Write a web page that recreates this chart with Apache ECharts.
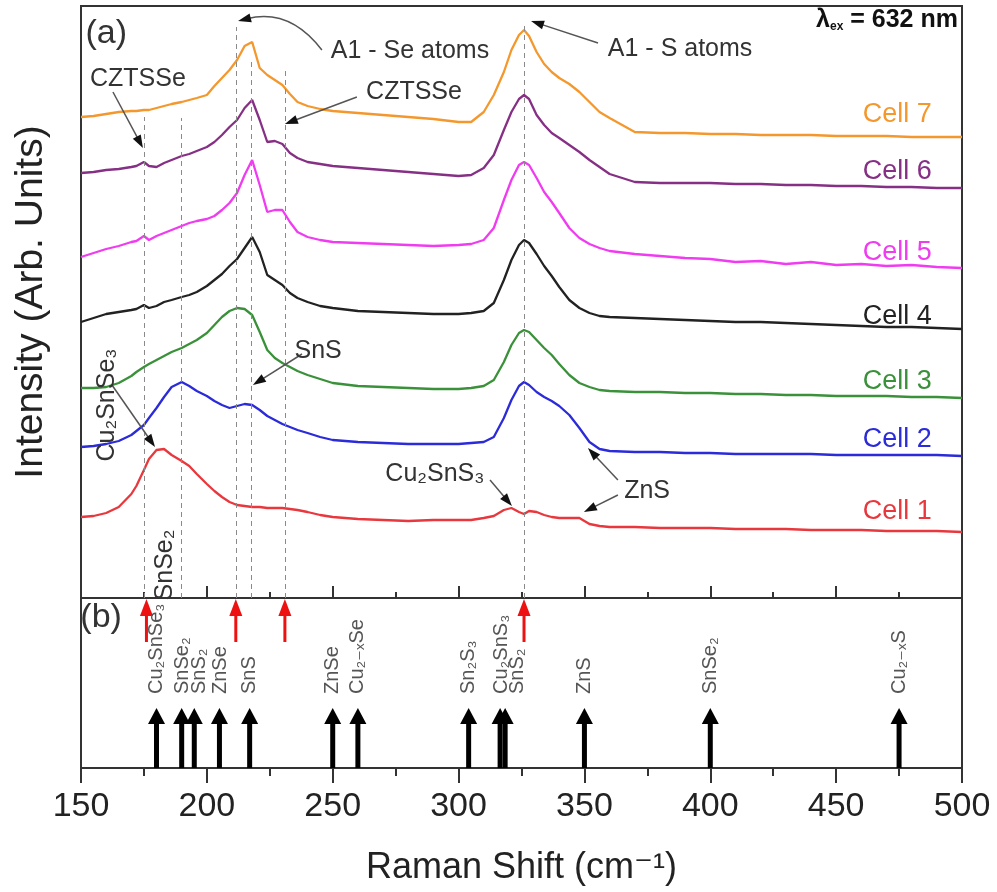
<!DOCTYPE html>
<html><head><meta charset="utf-8">
<script src="https://cdn.jsdelivr.net/npm/echarts@6/dist/echarts.min.js"></script>
<style>html,body{margin:0;padding:0;background:#fff}#c{width:997px;height:892px}</style>
</head><body><div id="c"></div>
<script>
const FONT = '"Liberation Sans", Arial, "DejaVu Sans", sans-serif';

// Raman shift sampling (cm-1)
const ramanShift = [150,155,160,165,170,172,175,177,180,183,186,190,193,196,200,203,206,209,212,215,218,221,224,227,230,233,236,240,245,250,260,270,280,290,300,305,310,314,318,321,324,326,328,331,334,337,340,344,348,352,356,360,370,380,390,400,410,420,430,440,450,460,470,480,490,500];

// Stacked intensities (arb. units, offsets included)
const cell1 = [83,84,87,93,106,114,130,141,150,151,145,139,134,126,116,109,103,98,95,94,93,93,92,92,92,91,90,88,85,83,81,80,79,80,80,80,82,84,90,92,88,86,89,88,85,83,82,82,82,76,74,73,73,72,72,72,71,71,71,70,70,70,69,69,69,68];
const cell2 = [153,154,156,159,165,169,175,182,192,203,213,218,214,209,204,199,195,192,194,196,195,190,184,180,176,173,170,167,163,160,158,157,156,156,156,157,158,163,182,200,214,218,215,208,203,199,194,185,172,158,151,149,148,148,147,147,146,146,146,146,145,145,145,145,145,144];
const cell3 = [212,212,213,217,224,228,233,236,240,244,248,252,256,260,267,275,283,289,292,291,285,268,250,242,237,233,229,225,221,217,214,213,212,211,211,212,214,220,238,255,267,270,268,260,252,245,236,225,217,213,210,209,208,208,207,207,206,206,205,205,204,204,204,203,203,202];
const cell4 = [278,282,286,288,290,291,295,292,294,298,300,303,305,308,314,320,326,334,341,352,363,348,325,320,315,307,302,298,294,292,289,288,287,286,286,287,289,297,320,340,355,360,357,346,334,324,313,300,292,287,284,283,282,281,280,279,278,278,277,276,275,274,273,273,272,271];
const cell5 = [343,347,351,354,358,359,364,360,364,367,370,374,377,379,381,384,390,397,407,425,440,415,388,390,390,378,368,363,360,358,357,356,355,354,355,356,360,372,400,420,435,438,435,422,408,398,387,372,362,356,352,349,346,344,342,341,338,339,336,338,335,336,334,335,333,332];
const cell6 = [427,428,430,431,433,434,438,434,433,437,440,444,446,449,453,458,465,473,480,492,500,480,458,459,456,447,442,438,436,434,432,430,428,426,424,425,432,445,470,488,501,505,501,485,475,467,462,455,448,440,433,426,418,417,417,417,416,416,415,415,414,414,413,413,412,412];
const cell7 = [483,484,486,488,489,489,490,490,492,494,496,498,500,502,505,514,522,530,540,554,558,532,525,520,515,506,498,494,491,489,487,485,483,481,478,478,488,505,528,550,565,570,564,548,536,528,522,516,508,498,488,482,468,467,467,466,466,465,465,465,464,464,464,463,463,463];

const cellNames = ['Cell 1','Cell 2','Cell 3','Cell 4','Cell 5','Cell 6','Cell 7'];
const cellData = [cell1, cell2, cell3, cell4, cell5, cell6, cell7];

// Panel (b): reference phase peaks (cm-1)
const refPeaks = [180,190,195,205,217,250,260,304,316.5,318.5,350,400,475];
const refLabels = ['Cu₂SnSe₃','SnSe₂','SnS₂','ZnSe','SnS','ZnSe','Cu₂₋ₓSe','Sn₂S₃','Cu₂SnS₃','SnS₂','ZnS','SnSe₂','Cu₂₋ₓS'];
const refLabelShift = [180,190.5,197,205.5,217,250,260,304,317,323.5,350,400,475];
// Peaks marked with red arrows
const markedPeaks = [176,211.5,231,326];
// Dashed guide lines in panel (a): shift and top intensity
const guideShift = [175,190,211.5,217.5,231,326];
const guideTop = [483,482,573,540,533,577];

// ---- styling / layout (not data) ----
const colors = ['#e8383d','#2b2bd9','#3a913a','#222222','#f03cf0','#863085','#f4982e'];
const cellLabelPos = [88,160,218,283,347,428,485];
const TXT = '#333';

const notes = [
  {x:280.7, y:549, t:'A1 - Se atoms'},
  {x:388, y:551, t:'A1 - S atoms'},
  {x:172.6, y:521, t:'CZTSSe'},
  {x:282.3, y:508, t:'CZTSSe'},
  {x:244.2, y:249, t:'SnS'},
  {x:160.3, y:195, t:'Cu₂SnSe₃', rot:Math.PI/2},
  {x:183.4, y:35, t:'SnSe₂', rot:Math.PI/2},
  {x:290.6, y:126, t:'Cu₂SnS₃'},
  {x:374.9, y:109, t:'ZnS'},
  {x:160, y:566, t:'(a)', size:34},
  {x:498.4, y:580, t:'{l|λ}{s|ex}{l| = 632 nm}', align:'right', rich:true}
];
cellNames.forEach((n,i)=>notes.push({x:488, y:cellLabelPos[i], t:n, align:'right', c:colors[i], size:27}));

// Annotation arrows: [x1, y1, x2, y2, curveness]
const arrows = [
  [245.7,550, 212.4,579, -0.33],
  [355.4,557, 328.8,579, 0],
  [162.7,508, 174.6,452, 0],
  [259.6,503, 231.0,476, 0],
  [237.8,246, 218.3,215, 0],
  [162.3,215, 179.4,153, 0],
  [312.5,120, 321.2,94, 0],
  [363.3,120, 351.4,152, 0],
  [363.3,105, 349.8,88, 0]
];

function arrowRender(color, shaftW, headW, headL){
  return function(params, api){
    const b = api.coord([api.value(0), api.value(1)]);
    const t = api.coord([api.value(0), api.value(2)]);
    return {type:'group', children:[
      {type:'rect', shape:{x:b[0]-shaftW/2, y:t[1]+headL-1, width:shaftW, height:b[1]-t[1]-headL+1}, style:{fill:color}},
      {type:'polygon', shape:{points:[[t[0],t[1]],[t[0]-headW/2,t[1]+headL],[t[0]+headW/2,t[1]+headL]]}, style:{fill:color}}
    ]};
  };
}

function noteArrowRender(params, api){
  const p1 = api.coord([api.value(0), api.value(1)]);
  const p2 = api.coord([api.value(2), api.value(3)]);
  const c = api.value(4);
  const cp = [(p1[0]+p2[0])/2 - (p1[1]-p2[1])*c, (p1[1]+p2[1])/2 - (p2[0]-p1[0])*c];
  let dx = p2[0]-cp[0], dy = p2[1]-cp[1];
  const L = Math.hypot(dx,dy) || 1; dx/=L; dy/=L;
  const hl = 13, hw = 4.5;
  const base = [p2[0]-dx*hl, p2[1]-dy*hl];
  const head = [[p2[0],p2[1]],[base[0]-dy*hw, base[1]+dx*hw],[base[0]+dy*hw, base[1]-dx*hw]];
  const lineEnd = [p2[0]-dx*hl*0.7, p2[1]-dy*hl*0.7];
  return {type:'group', children:[
    {type:'bezierCurve', shape:{x1:p1[0], y1:p1[1], x2:lineEnd[0], y2:lineEnd[1], cpx1:cp[0], cpy1:cp[1]},
      style:{stroke:'#555', lineWidth:1.5, fill:null}},
    {type:'polygon', shape:{points:head}, style:{fill:'#111'}}
  ]};
}

const series = cellData.map((d,i)=>({
  name: cellNames[i], type:'line', xAxisIndex:0, yAxisIndex:0,
  data: ramanShift.map((x,k)=>[x,d[k]]),
  showSymbol:false, symbol:'none', lineStyle:{color:colors[i], width:2.3}, itemStyle:{color:colors[i]},
  z: 3, silent:true
}));

series.push({
  type:'line', xAxisIndex:0, yAxisIndex:0, data:[], z:1, silent:true,
  markLine:{silent:true, symbol:['none','none'], label:{show:false},
    lineStyle:{color:'#8a8a8a', width:1, type:[5,4]},
    data: guideShift.map((x,i)=>[{coord:[x,2]},{coord:[x,guideTop[i]]}])}
});
series.push({
  type:'custom', xAxisIndex:0, yAxisIndex:0, z:5, silent:true, clip:false,
  data: arrows, renderItem: noteArrowRender
});
series.push({
  type:'custom', xAxisIndex:0, yAxisIndex:0, z:6, silent:true, clip:false,
  data: notes.map(n=>[n.x,n.y]),
  renderItem:(params, api)=>{
    const n = notes[params.dataIndex];
    const p = api.coord([api.value(0), api.value(1)]);
    const style = {text:n.t, fill:n.c||TXT, font:(n.size||25)+'px '+FONT, align:n.align||'center', verticalAlign:'middle'};
    if (n.rich) {
      style.rich = {l:{font:'bold 25px '+FONT, fill:'#111'}, s:{font:'bold 12px '+FONT, fill:'#111', verticalAlign:'bottom'}};
    }
    return {type:'text', x:p[0], y:p[1], rotation:n.rot||0, style};
  }
});
// Panel (b)
series.push({
  type:'custom', xAxisIndex:1, yAxisIndex:1, z:4, silent:true, clip:false,
  data: refPeaks.map(x=>[x,0,60]),
  renderItem: arrowRender('#000', 5, 17, 16)
});
series.push({
  type:'custom', xAxisIndex:1, yAxisIndex:1, z:4, silent:true, clip:false,
  data: markedPeaks.map(x=>[x,126,169]),
  renderItem: arrowRender('#ee1111', 3, 13, 17)
});
series.push({
  type:'custom', xAxisIndex:1, yAxisIndex:1, z:4, silent:true, clip:false,
  data: refLabelShift.map(x=>[x,74]),
  renderItem:(params, api)=>{
    const p = api.coord([api.value(0), api.value(1)]);
    return {type:'text', x:p[0], y:p[1], rotation:Math.PI/2,
      style:{text:refLabels[params.dataIndex], fill:'#555', font:'20px '+FONT, align:'left', verticalAlign:'middle'}};
  }
});
series.push({
  type:'custom', xAxisIndex:1, yAxisIndex:1, z:4, silent:true, clip:false,
  data: [[158,150]],
  renderItem:(params, api)=>{
    const p = api.coord([api.value(0), api.value(1)]);
    return {type:'text', x:p[0], y:p[1], style:{text:'(b)', fill:TXT, font:'34px '+FONT, align:'center', verticalAlign:'middle'}};
  }
});

const axisCommon = {type:'value', min:150, max:500, interval:50, splitLine:{show:false}, minorSplitLine:{show:false},
  axisLine:{show:true, lineStyle:{color:'#333', width:2}}};

const option = {
  animation:false,
  backgroundColor:'#fff',
  grid:[
    {left:81, right:35, top:6, height:592, show:true, borderColor:'#333', borderWidth:2, backgroundColor:'transparent'},
    {left:81, right:35, top:598, height:170, show:true, borderColor:'#333', borderWidth:2, backgroundColor:'transparent'}
  ],
  xAxis:[
    Object.assign({}, axisCommon, {gridIndex:0, axisLabel:{show:false},
      axisTick:{show:true, inside:true, length:12, lineStyle:{color:'#333', width:2}},
      minorTick:{show:true, splitNumber:2, length:6, lineStyle:{color:'#333', width:2}}}),
    Object.assign({}, axisCommon, {gridIndex:1,
      axisLabel:{show:true, fontSize:34, color:'#222', fontFamily:FONT, margin:22},
      axisTick:{show:true, inside:false, length:15, lineStyle:{color:'#333', width:2}},
      minorTick:{show:true, splitNumber:2, length:8, lineStyle:{color:'#333', width:2}},
      name:'Raman Shift (cm⁻¹)', nameLocation:'middle', nameGap:82,
      nameTextStyle:{fontSize:36, color:'#222', fontFamily:FONT}})
  ],
  yAxis:[
    {type:'value', gridIndex:0, min:2, max:594, axisLabel:{show:false}, axisTick:{show:false}, splitLine:{show:false},
      axisLine:{show:true, lineStyle:{color:'#333', width:2}},
      name:'Intensity (Arb. Units)', nameLocation:'middle', nameGap:30,
      nameTextStyle:{fontSize:39, color:'#222', fontFamily:FONT}},
    {type:'value', gridIndex:1, min:0, max:170, axisLabel:{show:false}, axisTick:{show:false}, splitLine:{show:false},
      axisLine:{show:true, lineStyle:{color:'#333', width:2}}}
  ],
  series
};
const chart = echarts.init(document.getElementById('c'), null, {renderer:'canvas'});
chart.setOption(option);
</script>
</body></html>
